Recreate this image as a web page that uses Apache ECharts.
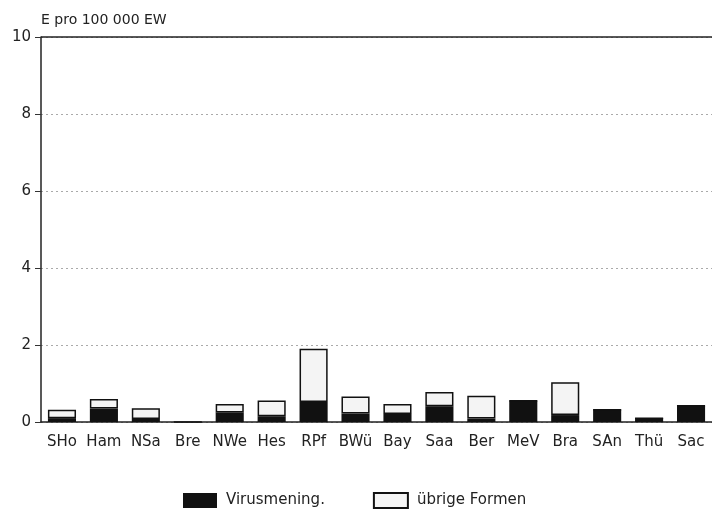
<!DOCTYPE html>
<html><head><meta charset="utf-8">
<script src="https://cdn.jsdelivr.net/npm/echarts@6/dist/echarts.min.js"></script>
<style>html,body{margin:0;padding:0;background:#fff}#c{width:712px;height:519px}</style>
</head><body><div id="c"></div>
<script>
const categories = ['SHo','Ham','NSa','Bre','NWe','Hes','RPf','BWü','Bay','Saa','Ber','MeV','Bra','SAn','Thü','Sac'];
const virusmening = [0.10,0.35,0.08,0,0.25,0.15,0.52,0.22,0.21,0.41,0.09,0.55,0.18,0.32,0.10,0.42];
const uebrige = [0.22,0.25,0.28,0,0.22,0.41,1.38,0.44,0.26,0.37,0.59,0,0.85,0,0,0];
const yTicks = [0,2,4,6,8,10];

const font = 'DejaVu Sans';
const chart = echarts.init(document.getElementById('c'));
chart.setOption({
  animation: false,
  backgroundColor: '#fff',
  textStyle: {fontFamily: font},
  grid: {left: 41, right: 0, top: 37, bottom: 97},
  legend: {
    bottom: 5, left: 178, itemGap: 48, itemWidth: 34, itemHeight: 15,
    textStyle: {fontFamily: font, fontSize: 15, color: '#222', padding: [0,0,0,4]},
    data: [{name: 'Virusmening.', icon: 'rect'}, {name: 'übrige Formen', icon: 'rect'}]
  },
  xAxis: {
    type: 'category', data: categories,
    axisLine: {lineStyle: {color: '#222', width: 1.5}},
    axisTick: {alignWithLabel: true, length: 5, lineStyle: {color: '#333'}},
    axisLabel: {color: '#222', fontSize: 15, margin: 13, interval: 0}
  },
  yAxis: {
    type: 'value', min: yTicks[0], max: yTicks[yTicks.length-1], interval: 2,
    name: 'E pro 100 000 EW', nameLocation: 'end', nameGap: 10,
    nameTextStyle: {align: 'left', fontSize: 14, color: '#222', padding: [0,0,0,0]},
    axisLine: {show: true, lineStyle: {color: '#222', width: 1.5}},
    axisTick: {show: true, length: 6, lineStyle: {color: '#333'}},
    axisLabel: {color: '#222', fontSize: 15, margin: 10},
    splitLine: {lineStyle: {color: '#aaa', type: [2,3], width: 1}}
  },
  series: [
    {
      name: 'Virusmening.', type: 'bar', stack: 'a', data: virusmening, barWidth: '67%',
      itemStyle: {color: '#111', borderWidth: 0},
      markLine: {silent: true, symbol: 'none', label: {show: false},
        lineStyle: {color: '#222', type: 'solid', width: 1.5},
        data: [{yAxis: yTicks[yTicks.length-1]}]}
    },
    {
      name: 'übrige Formen', type: 'bar', stack: 'a', data: uebrige, barWidth: '67%',
      itemStyle: {color: '#f4f4f4', borderColor: '#111', borderWidth: 1.5}
    }
  ]
});
</script></body></html>
